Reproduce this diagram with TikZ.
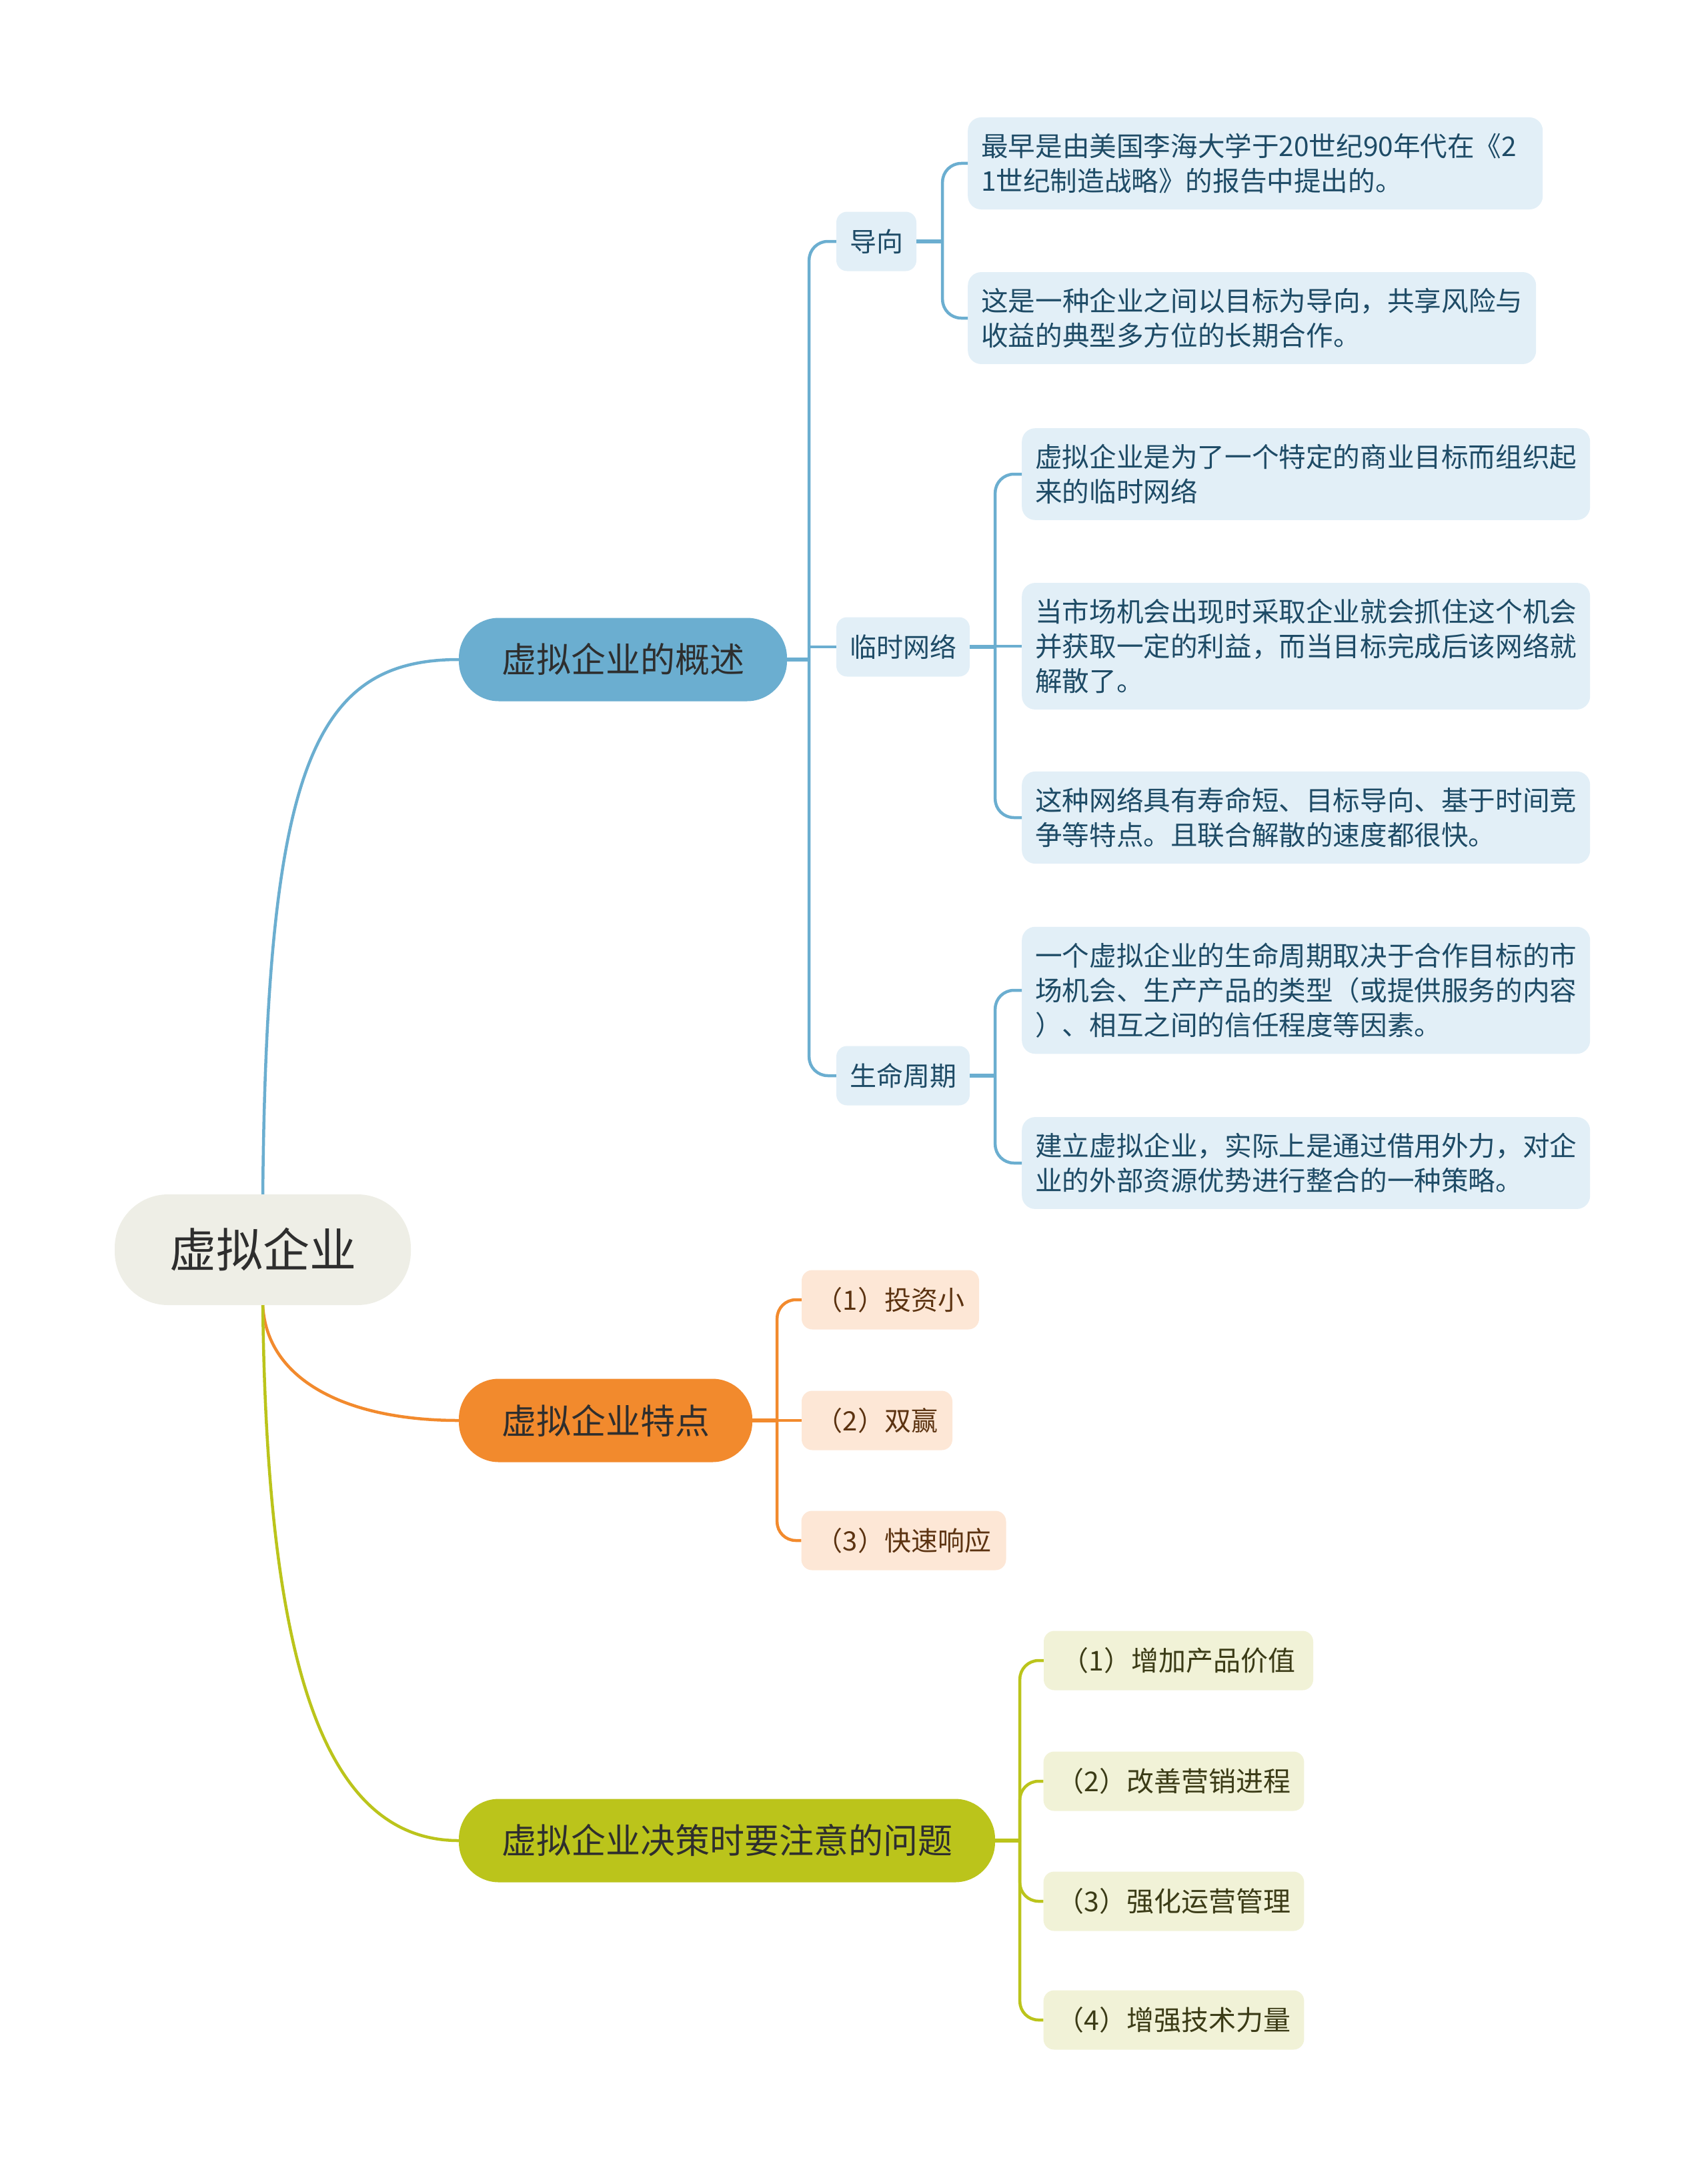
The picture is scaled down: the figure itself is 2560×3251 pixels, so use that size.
\documentclass[tikz,border=0pt]{standalone}
\usepackage{fontspec}
\setmainfont{Noto Sans CJK SC}

\definecolor{rootfill}{HTML}{EEEEE6}
\definecolor{darktext}{HTML}{2E2E2E}
\definecolor{bluemain}{HTML}{6BAED0}
\definecolor{bluelight}{HTML}{E2EFF7}
\definecolor{bluetext}{HTML}{1E4B66}
\definecolor{orgmain}{HTML}{F28A2D}
\definecolor{orglight}{HTML}{FDE7D6}
\definecolor{orgtext}{HTML}{5C3311}
\definecolor{grnmain}{HTML}{BBC41B}
\definecolor{grnlight}{HTML}{F1F2D7}
\definecolor{grntext}{HTML}{3B3B16}

\begin{document}
\begin{tikzpicture}[x=1pt,y=1pt,yscale=-1,
  rootbox/.style={fill=rootfill,text=darktext,rounded corners=80pt,minimum width=444pt,minimum height=166pt,font=\fontsize{70}{84}\selectfont},
  mainbox/.style={rounded corners=60pt,minimum height=125pt,inner xsep=64pt,text=darktext,font=\fontsize{52}{62}\selectfont},
  subbox/.style={rounded corners=16pt,minimum height=89pt,inner xsep=20pt,font=\fontsize{40}{52}\selectfont},
  leafbox/.style={fill=bluelight,text=bluetext,rounded corners=20pt,inner xsep=20pt,inner ysep=24pt,align=left,anchor=west,font=\fontsize{40.6}{52}\selectfont},
  link/.style={line width=4.5pt},
  stub/.style={line width=6pt}]
\useasboundingbox (0,0) rectangle (2560,3251);

% Root
\node[rootbox] (root) at (394,1874) {虚拟企业};

% Main topics
\node[mainbox,fill=bluemain] (ov) at (934,989) {虚拟企业的概述};
\node[mainbox,fill=orgmain] (feat) at (908,2130) {虚拟企业特点};
\node[mainbox,fill=grnmain] (prob) at (1090,2760) {虚拟企业决策时要注意的问题};

% Sub topics of the overview
\node[subbox,fill=bluelight,text=bluetext] (guide) at (1314,362) {导向};
\node[subbox,fill=bluelight,text=bluetext] (net) at (1354,970) {临时网络};
\node[subbox,fill=bluelight,text=bluetext] (life) at (1354,1613) {生命周期};

% Text Node
\node[leafbox,text width=822pt] (a1) at (1451,245) {最早是由美国李海大学于20世纪90年代在《2\\1世纪制造战略》的报告中提出的。};
\node[leafbox,text width=812pt] (a2) at (1451,477) {这是一种企业之间以目标为导向，共享风险与\\收益的典型多方位的长期合作。};
\node[leafbox,text width=812pt] (b1) at (1532,711) {虚拟企业是为了一个特定的商业目标而组织起\\来的临时网络};
\node[leafbox,text width=812pt] (b2) at (1532,969) {当市场机会出现时采取企业就会抓住这个机会\\并获取一定的利益，而当目标完成后该网络就\\解散了。};
\node[leafbox,text width=812pt] (b3) at (1532,1226) {这种网络具有寿命短、目标导向、基于时间竞\\争等特点。且联合解散的速度都很快。};
\node[leafbox,text width=812pt] (c1) at (1532,1485) {一个虚拟企业的生命周期取决于合作目标的市\\场机会、生产产品的类型（或提供服务的内容\\）、相互之间的信任程度等因素。};
\node[leafbox,text width=812pt] (c2) at (1532,1744) {建立虚拟企业，实际上是通过借用外力，对企\\业的外部资源优势进行整合的一种策略。};

% Features
\node[subbox,fill=orglight,text=orgtext,minimum width=266pt] (o1) at (1335,1949) {（1）投资小};
\node[subbox,fill=orglight,text=orgtext,minimum width=226pt] (o2) at (1315,2130) {（2）双赢};
\node[subbox,fill=orglight,text=orgtext,minimum width=307pt] (o3) at (1355,2310) {（3）快速响应};

% Problems
\node[subbox,fill=grnlight,text=grntext,minimum width=404pt,font=\fontsize{41}{52}\selectfont] (g1) at (1767,2490) {（1）增加产品价值};
\node[subbox,fill=grnlight,text=grntext,minimum width=390pt,font=\fontsize{41}{52}\selectfont] (g2) at (1760,2671) {（2）改善营销进程};
\node[subbox,fill=grnlight,text=grntext,minimum width=390pt,font=\fontsize{41}{52}\selectfont] (g3) at (1760,2851) {（3）强化运营管理};
\node[subbox,fill=grnlight,text=grntext,minimum width=390pt,font=\fontsize{41}{52}\selectfont] (g4) at (1760,3029) {（4）增强技术力量};

%Curve Lines from the root
\draw[link,bluemain] (root.north) .. controls (400,1150) and (470,989) .. (ov.west);
\draw[link,orgmain] (root.south) .. controls (400,2070) and (520,2130) .. (feat.west);
\draw[link,grnmain] (root.south) .. controls (400,2450) and (470,2760) .. (prob.west);

%Straight Lines: blue branch
\draw[stub,bluemain] (ov.east) -- ++(33,0) coordinate (ovj);
\draw[link,bluemain,rounded corners=28pt] (ovj) |- (guide.west);
\draw[link,bluemain] (ovj) |- (net.west);
\draw[link,bluemain,rounded corners=28pt] (ovj) |- (life.west);

\draw[stub,bluemain] (guide.east) -- ++(39,0) coordinate (gj);
\draw[link,bluemain,rounded corners=28pt] (gj) |- (a1.west);
\draw[link,bluemain,rounded corners=28pt] (gj) |- (a2.west);

\draw[stub,bluemain] (net.east) -- ++(38,0) coordinate (nj);
\draw[link,bluemain,rounded corners=28pt] (nj) |- (b1.west);
\draw[link,bluemain] (nj) |- (b2.west);
\draw[link,bluemain,rounded corners=28pt] (nj) |- (b3.west);

\draw[stub,bluemain] (life.east) -- ++(38,0) coordinate (lj);
\draw[link,bluemain,rounded corners=28pt] (lj) |- (c1.west);
\draw[link,bluemain,rounded corners=28pt] (lj) |- (c2.west);

%Straight Lines: orange branch
\draw[stub,orgmain] (feat.east) -- ++(37,0) coordinate (fj);
\draw[link,orgmain,rounded corners=28pt] (fj) |- (o1.west);
\draw[link,orgmain] (fj) |- (o2.west);
\draw[link,orgmain,rounded corners=28pt] (fj) |- (o3.west);

%Straight Lines: green branch
\draw[stub,grnmain] (prob.east) -- ++(37,0) coordinate (pj);
\draw[link,grnmain,rounded corners=28pt] (pj) |- (g1.west);
\draw[link,grnmain,rounded corners=28pt] (pj) |- (g2.west);
\draw[link,grnmain,rounded corners=28pt] (pj) |- (g3.west);
\draw[link,grnmain,rounded corners=28pt] (pj) |- (g4.west);

\end{tikzpicture}
\end{document}
